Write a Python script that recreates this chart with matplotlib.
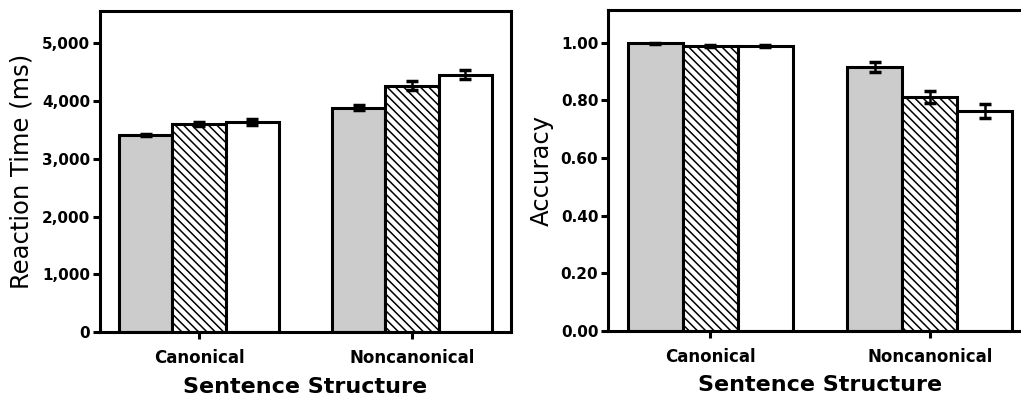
import numpy as np
import matplotlib
matplotlib.use("Agg")
import matplotlib.pyplot as plt

# ── data ──────────────────────────────────────────────────────────────────────
structures = ["Canonical", "Noncanonical"]

rt_gray    = [3415, 3887]
rt_hatch   = [3607, 4268]
rt_white   = [3636, 4454]
rt_gray_err  = [20, 45]
rt_hatch_err = [35, 75]
rt_white_err = [50, 80]

acc_gray    = [0.998, 0.915]
acc_hatch   = [0.988, 0.811]
acc_white   = [0.988, 0.763]
acc_gray_err  = [0.002, 0.016]
acc_hatch_err = [0.004, 0.022]
acc_white_err = [0.004, 0.024]

rt_ticks  = [0, 1000, 2000, 3000, 4000, 5000]
rt_labels = ["0", "1,000", "2,000", "3,000", "4,000", "5,000"]
acc_ticks  = [0.0, 0.2, 0.4, 0.6, 0.8, 1.0]
acc_labels = ["0.00", "0.20", "0.40", "0.60", "0.80", "1.00"]

# ── style ─────────────────────────────────────────────────────────────────────
plt.rcParams["font.family"] = ["DejaVu Sans"]
plt.rcParams["hatch.linewidth"] = 1.1
LW = 2.2
W = 0.25

fig = plt.figure(figsize=(10.21, 3.98), dpi=100)
ax1 = fig.add_axes([0.0979, 0.1658, 0.4026, 0.8066])
ax2 = fig.add_axes([0.5955, 0.1683, 0.4153, 0.8066])


def draw(ax, gray, hatch, white, egray, ehatch, ewhite):
    x = np.arange(len(structures))
    series = [(gray, egray, "#cccccc", None),
              (hatch, ehatch, "white", "\\\\\\\\"),
              (white, ewhite, "white", None)]
    for i, (vals, errs, fc, h) in enumerate(series):
        ax.bar(x + (i - 1) * W, vals, W, color=fc, edgecolor="black",
               linewidth=LW, hatch=h, zorder=2)
        ax.errorbar(x + (i - 1) * W, vals, yerr=errs, fmt="none",
                    ecolor="black", elinewidth=1.8, capsize=4.5,
                    capthick=2.5, zorder=3)
    ax.set_xlim(-0.465, 1.465)
    ax.set_xticks(x)
    ax.set_xticklabels(structures, fontsize=12, fontweight="bold")
    for s in ax.spines.values():
        s.set_linewidth(LW)
    ax.tick_params(axis="both", direction="out", length=5, width=2.2)
    ax.tick_params(axis="x", pad=7)
    ax.tick_params(axis="y", pad=2)
    ax.set_xlabel("Sentence Structure", fontsize=16, fontweight="bold",
                  va="center")


draw(ax1, rt_gray, rt_hatch, rt_white, rt_gray_err, rt_hatch_err, rt_white_err)
ax1.set_ylim(0, 5560)
ax1.set_yticks(rt_ticks)
ax1.set_yticklabels(rt_labels, fontsize=11, fontweight="bold")
ax1.set_ylabel("Reaction Time (ms)", fontsize=17.5, va="center")
ax1.yaxis.set_label_coords(-0.19, 0.5)
ax1.xaxis.set_label_coords(0.5, -0.171)

draw(ax2, acc_gray, acc_hatch, acc_white, acc_gray_err, acc_hatch_err, acc_white_err)
ax2.set_ylim(0, 1.113)
ax2.set_yticks(acc_ticks)
ax2.set_yticklabels(acc_labels, fontsize=11, fontweight="bold")
ax2.set_ylabel("Accuracy", fontsize=17.5, va="center")
ax2.yaxis.set_label_coords(-0.156, 0.5)
ax2.xaxis.set_label_coords(0.5, -0.168)

fig.savefig("out.png", dpi=100)
